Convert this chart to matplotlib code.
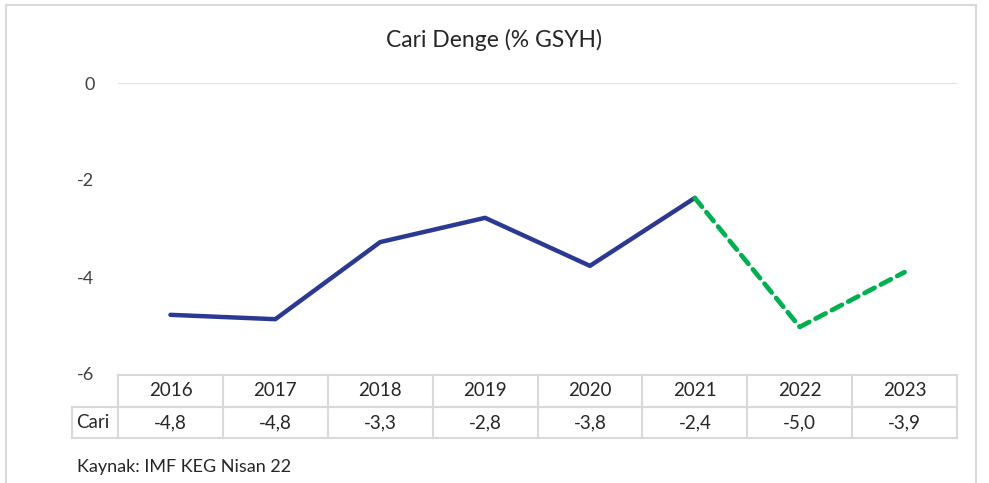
import matplotlib.pyplot as plt
from matplotlib.transforms import blended_transform_factory
from matplotlib.patches import Rectangle
from matplotlib.lines import Line2D

plt.rcParams["font.family"] = ["Lato", "DejaVu Sans"]

years = ["2016", "2017", "2018", "2019", "2020", "2021", "2022", "2023"]
cari = [-4.78, -4.87, -3.28, -2.78, -3.77, -2.37, -5.03, -3.90]  # plotted values
cari_table = ["-4,8", "-4,8", "-3,3", "-2,8", "-3,8", "-2,4", "-5,0", "-3,9"]
yticks = [0, -2, -4, -6]

W, H = 989, 483
fig = plt.figure(figsize=(W / 100, H / 100), dpi=100)

def fx(px):
    return px / W

def fy(py):
    return 1 - py / H

# outer chart frame
fig.patches.append(Rectangle((fx(6), fy(490)), fx(976) - fx(6), fy(5) - fy(490),
                             transform=fig.transFigure, fill=False,
                             edgecolor="#d9d9d9", lw=1.5))

ax = fig.add_axes([fx(118), fy(374), fx(957) - fx(118), fy(83) - fy(374)])
x = list(range(len(years)))
ax.plot(x[:6], cari[:6], color="#2b3990", lw=3.2, solid_capstyle="round")
ax.plot(x[5:], cari[5:], color="#00b050", lw=3.4, ls=(0, (2.4, 1.5)),
        dash_capstyle="round")
ax.axhline(0, color="#d9d9d9", lw=1.2)
ax.set_xlim(-0.5, 7.5)
ax.set_ylim(-6, 0)
ax.set_yticks(yticks)
ax.set_yticklabels([str(v) for v in yticks], fontsize=13, color="#404040")
ax.tick_params(axis="y", length=0, pad=17)
ax.set_xticks([])
for s in ax.spines.values():
    s.set_visible(False)
ax.patch.set_alpha(0)

fig.text(fx(494), fy(40), "Cari Denge (% GSYH)", ha="center", va="center",
         fontsize=16.5, color="#262626")

# data table below the plot
tr = blended_transform_factory(ax.transData, fig.transFigure)
grid = "#d9d9d9"
top, mid, bot = fy(375), fy(407), fy(438)
for yy in (top, mid):
    fig.lines.append(Line2D([fx(118), fx(957)], [yy, yy], transform=fig.transFigure, color=grid, lw=1.5))
fig.lines.append(Line2D([fx(72), fx(957)], [mid, mid], transform=fig.transFigure, color=grid, lw=1.5))
fig.lines.append(Line2D([fx(72), fx(957)], [bot, bot], transform=fig.transFigure, color=grid, lw=1.5))
fig.lines.append(Line2D([fx(72), fx(72)], [mid, bot], transform=fig.transFigure, color=grid, lw=1.5))
for i in range(len(years) + 1):
    xv = i - 0.5
    ax.add_line(Line2D([xv, xv], [bot, top], transform=tr, color=grid, lw=1.5, clip_on=False))
for i, (yr, val) in enumerate(zip(years, cari_table)):
    ax.text(i, (top + mid) / 2, yr, transform=tr, ha="center", va="center",
            fontsize=13.5, color="#262626")
    ax.text(i, (mid + bot) / 2, val, transform=tr, ha="center", va="center",
            fontsize=13.5, color="#262626")
fig.text(fx(76), (mid + bot) / 2, "Cari", ha="left", va="center", fontsize=13.5, color="#262626")

fig.text(fx(77), fy(467), "Kaynak: IMF KEG Nisan 22", ha="left", va="center",
         fontsize=13, color="#262626")

fig.savefig("out.png", dpi=100)
